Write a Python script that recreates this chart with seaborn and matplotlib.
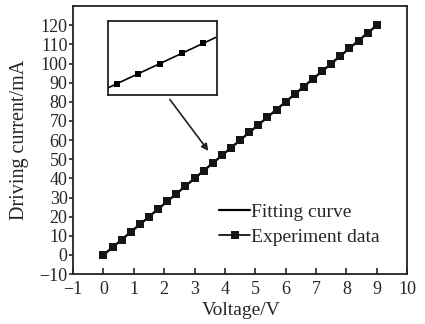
import numpy as np
import pandas as pd
import matplotlib
matplotlib.use("Agg")
import matplotlib.pyplot as plt
import seaborn as sns

voltage = [0.0, 0.3, 0.6, 0.9, 1.2, 1.5, 1.8, 2.1, 2.4, 2.7, 3.0,
           3.3, 3.6, 3.9, 4.2, 4.5, 4.8, 5.1, 5.4, 5.7, 6.0,
           6.3, 6.6, 6.9, 7.2, 7.5, 7.8, 8.1, 8.4, 8.7, 9.0]
current = [0, 4, 8, 12, 16, 20, 24, 28, 32, 36, 40,
           44, 48, 52, 56, 60, 64, 68, 72, 76, 80,
           84, 88, 92, 96, 100, 104, 108, 112, 116, 120]
x_ticks = [-1, 0, 1, 2, 3, 4, 5, 6, 7, 8, 9, 10]
y_ticks = [-10, 0, 10, 20, 30, 40, 50, 60, 70, 80, 90, 100, 110, 120]

sns.set_style("white")
plt.rcParams['font.family'] = ['Liberation Serif', 'DejaVu Serif']

df = pd.DataFrame({"Voltage": voltage, "Current": current})
slope, icpt = np.polyfit(voltage, current, 1)
fit_x = np.array([voltage[0], voltage[-1]])
fit_df = pd.DataFrame({"Voltage": fit_x, "Current": slope * fit_x + icpt})

fig = plt.figure(figsize=(4.25, 3.24), dpi=100)
ax = fig.add_axes([0.172, 0.154, 0.786, 0.827])

sns.lineplot(data=fit_df, x="Voltage", y="Current", ax=ax, color="black",
             linewidth=1.6, label="Fitting curve")
sns.lineplot(data=df, x="Voltage", y="Current", ax=ax, color="#151515",
             linewidth=1.3, marker="s", markersize=5.8, markeredgewidth=0,
             label="Experiment data")

ax.set_xlim(-1, 10)
ax.set_ylim(-10, 130)
ax.set_xticks(x_ticks)
ax.set_yticks(y_ticks)
ax.set_xticklabels([str(t).replace("-", "\u2212") for t in x_ticks])
ax.set_yticklabels([str(t).replace("-", "\u2212") for t in y_ticks])
ax.tick_params(axis="x", direction="in", length=4, width=1.2, pad=5,
               labelsize=13, top=False, bottom=True)
ax.tick_params(axis="y", direction="out", length=3, width=1.2, pad=1,
               labelsize=13, right=False, left=True)
for s in ax.spines.values():
    s.set_linewidth(1.3)
    s.set_color("#222222")
ax.set_xlabel("Voltage/V", fontsize=14)
ax.set_ylabel("Driving current/mA", fontsize=14.5)
ax.xaxis.set_label_coords(0.503, -0.134)
ax.yaxis.set_label_coords(-0.159, 0.5)
ax.yaxis.label.set_va("center")
ax.xaxis.label.set_va("center")

ax.legend(loc="upper left", bbox_to_anchor=(219 / 425, 1 - 203 / 324),
          bbox_transform=fig.transFigure, frameon=False, borderpad=0,
          borderaxespad=0, handlelength=1.6, handletextpad=0.05,
          labelspacing=0.38, fontsize=14)

# zoomed-in inset
ins = fig.add_axes([108 / 425, 1 - 95 / 324, 109 / 425, 74 / 324])
sns.lineplot(data=df, x="Voltage", y="Current", ax=ins, color="black",
             linewidth=1.2, marker="s", markersize=4.5, markeredgewidth=0)
ins.set_xlim(2.875, 4.395)
ins.set_ylim(35.5, 64.9)
ins.set_xticks([])
ins.set_yticks([])
ins.set_xlabel("")
ins.set_ylabel("")
for s in ins.spines.values():
    s.set_linewidth(1.3)
    s.set_color("#222222")

ax.annotate("", xy=(3.51, 53.2), xytext=(2.13, 82.4),
            arrowprops=dict(arrowstyle="-|>", color="#222222", lw=1.2,
                            mutation_scale=10))

fig.savefig("out.png", dpi=100)
